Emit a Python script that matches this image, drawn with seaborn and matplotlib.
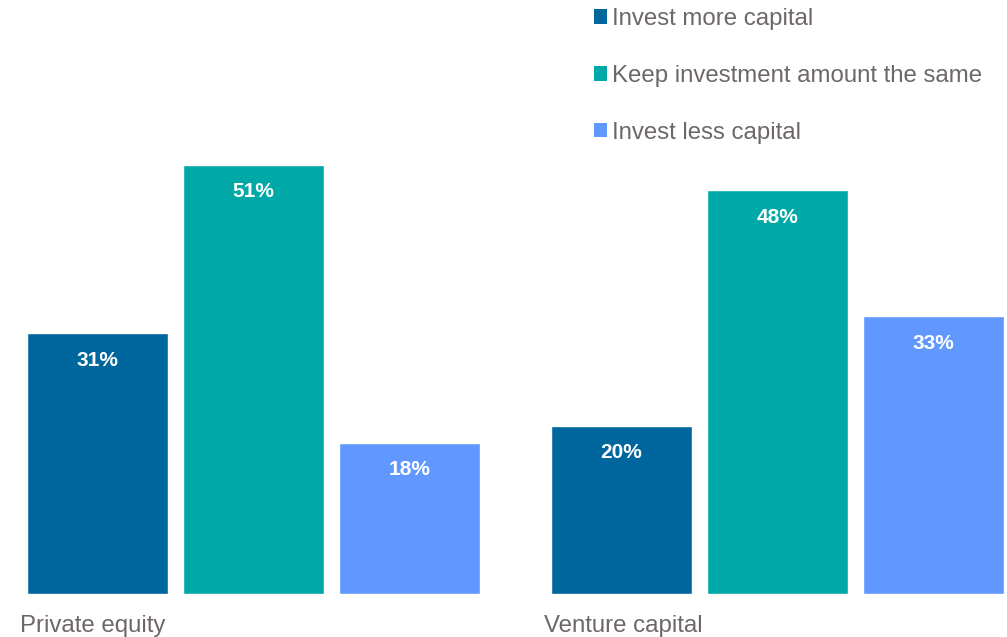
#!/usr/bin/env python3
"""Grouped bar chart: planned change in investment for private equity vs venture capital."""

import matplotlib

matplotlib.use("Agg")

import matplotlib.pyplot as plt
from matplotlib.patches import Patch
import pandas as pd
import seaborn as sns


CATEGORIES = ["Private equity", "Venture capital"]
RESPONSES = [
    "Invest more capital",
    "Keep investment amount the same",
    "Invest less capital",
]
INVEST_MORE = [31, 20]
KEEP_SAME = [51, 48]
INVEST_LESS = [18, 33]

COLORS = ["#00679E", "#00A8A8", "#6198FF"]
TEXT_GRAY = "#6D6767"
OUTPUT_PATH = "out.png"


def build_frame() -> pd.DataFrame:
    rows = []
    for response, values in zip(RESPONSES, [INVEST_MORE, KEEP_SAME, INVEST_LESS]):
        for category, value in zip(CATEGORIES, values):
            rows.append({"category": category, "response": response, "value": value})
    return pd.DataFrame(rows)


def main() -> None:
    sns.set_theme(style="white")
    plt.rcParams["font.family"] = ["Liberation Sans", "DejaVu Sans"]

    df = build_frame()
    fig = plt.figure(figsize=(10.07, 6.37), dpi=100)
    ax = fig.add_axes([0.0, 43 / 637, 1.0, 594 / 637])

    width = 0.893
    sns.barplot(
        data=df,
        x="category",
        y="value",
        hue="response",
        order=CATEGORIES,
        hue_order=RESPONSES,
        palette=COLORS,
        width=width,
        gap=0.096,
        saturation=1,
        legend=False,
        ax=ax,
    )

    # value labels inside the top of each bar
    for container in ax.containers:
        for bar in container:
            h = bar.get_height()
            ax.text(
                bar.get_x() + bar.get_width() / 2,
                h - 3.2,
                f"{h:.0f}%",
                ha="center",
                va="center",
                color="white",
                fontsize=15,
                fontweight="bold",
            )

    # category names, left aligned under each group
    for i, name in enumerate(CATEGORIES):
        ax.annotate(
            name,
            xy=(i - width / 2, 0),
            xycoords="data",
            xytext=(0, -32),
            textcoords="offset pixels",
            ha="left",
            va="center",
            fontsize=17.3,
            color=TEXT_GRAY,
            annotation_clip=False,
        )

    ax.set_xlim(-0.484, 1.438)
    ax.set_ylim(0, 70.6)
    ax.set_xticks([])
    ax.set_yticks([])
    ax.set_xlabel("")
    ax.set_ylabel("")
    for spine in ax.spines.values():
        spine.set_visible(False)

    handles = [
        Patch(facecolor=color, edgecolor="none", label=label)
        for color, label in zip(COLORS, RESPONSES)
    ]
    fig.legend(
        handles=handles,
        loc="upper left",
        bbox_to_anchor=(594 / 1007, 1.0 - 8 / 637),
        frameon=False,
        fontsize=17.3,
        labelcolor=TEXT_GRAY,
        handlelength=0.55,
        handleheight=0.55,
        handletextpad=0.2,
        labelspacing=1.45,
        borderpad=0.0,
        borderaxespad=0.0,
    )

    fig.savefig(OUTPUT_PATH, dpi=100)
    plt.close(fig)


if __name__ == "__main__":
    main()
